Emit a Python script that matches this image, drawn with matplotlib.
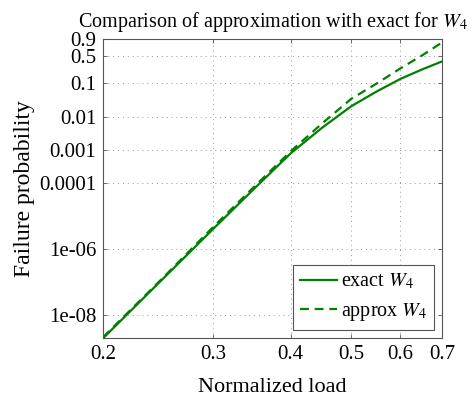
import numpy as np
import matplotlib
matplotlib.use("Agg")
import matplotlib.pyplot as plt

# values
load = [0.2, 0.25, 0.3, 0.35, 0.4, 0.45, 0.5, 0.55, 0.6, 0.65, 0.7]
p_exact = [2.01e-9, 1.32e-7, 4.01e-6, 6.98e-5, 8.0e-4, 0.00489, 0.0210, 0.0585, 0.134, 0.243, 0.386]
p_approx = [2.16e-9, 1.41e-7, 4.60e-6, 8.02e-5, 9.2e-4, 0.00660, 0.0350, 0.0998, 0.259, 0.523, 0.840]

x_ticks = [0.2, 0.3, 0.4, 0.5, 0.6, 0.7]
x_labels = ["0.2", "0.3", "0.4", "0.5", "0.6", "0.7"]
y_ticks = [1e-8, 1e-6, 1e-4, 1e-3, 0.01, 0.1, 0.5, 0.9]
y_labels = ["1e-08", "1e-06", "0.0001", "0.001", "0.01", "0.1", "0.5", "0.9"]

plt.rcParams["font.family"] = ["Liberation Serif", "DejaVu Serif"]
plt.rcParams["mathtext.fontset"] = "stix"


# weibull probability scale
def weib(p):
    p = np.clip(np.asarray(p, dtype=float), 1e-300, 1 - 1e-16)
    return np.log10(-np.log1p(-p))


def weib_inv(w):
    return -np.expm1(-10.0 ** np.asarray(w, dtype=float))


green = "#008000"

fig = plt.figure(figsize=(4.75, 3.99), dpi=100)
ax = fig.add_axes([0.217, 0.153, 0.714, 0.749])

ax.plot(load, p_exact, color=green, lw=1.6, label="exact $W_4$")
ax.plot(load, p_approx, color=green, lw=1.6, ls=(0, (4, 2.6)), label="approx $W_4$")

ax.set_xscale("log")
ax.set_yscale("function", functions=(weib, weib_inv))
ax.set_xlim(0.2, 0.7)
ax.set_ylim(2.05e-9, 0.9)

ax.set_xticks(x_ticks)
ax.set_xticklabels(x_labels)
ax.xaxis.set_minor_locator(matplotlib.ticker.NullLocator())
ax.set_yticks(y_ticks)
ax.set_yticklabels(y_labels)
ax.yaxis.set_minor_locator(matplotlib.ticker.NullLocator())

ax.tick_params(axis="both", direction="in", length=3, width=0.6, color="#555555",
               top=True, right=True, labelsize=15, pad=5)
ax.grid(True, ls=(0, (1, 4)), color="#999999", lw=0.7)
for s in ax.spines.values():
    s.set_color("#555555")
    s.set_linewidth(0.8)

ax.set_title("Comparison of approximation with exact for $W_4$", fontsize=14.5, pad=9)
ax.set_xlabel("Normalized load", fontsize=16, labelpad=10)
ax.set_ylabel("Failure probability", fontsize=17, labelpad=3)

leg = ax.legend(loc="lower right", fontsize=14.5, handlelength=1.8, fancybox=False,
                framealpha=1, borderaxespad=0.4, handletextpad=0.2, labelspacing=0.45,
                borderpad=0.35)
leg.get_frame().set_edgecolor("#555555")
leg.get_frame().set_linewidth(0.8)

fig.savefig("out.png", dpi=100)
